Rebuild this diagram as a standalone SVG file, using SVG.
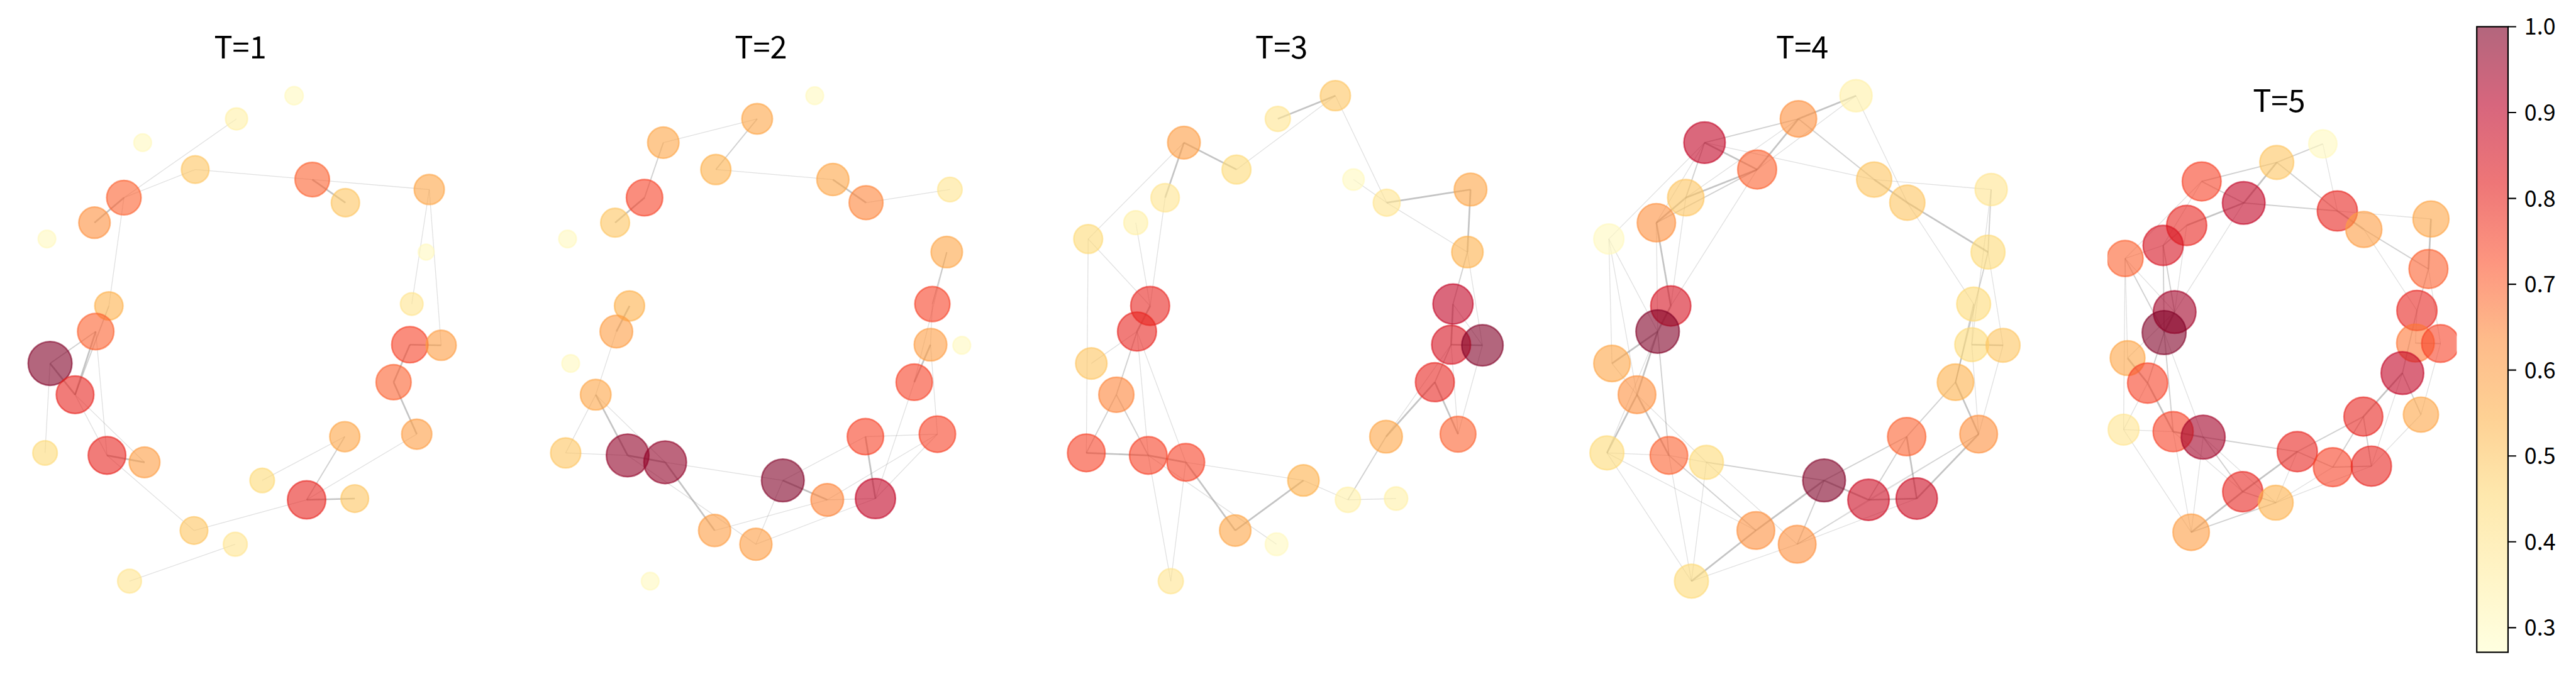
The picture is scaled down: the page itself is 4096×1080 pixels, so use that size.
<svg xmlns="http://www.w3.org/2000/svg" width="4096" height="1080" viewBox="0 0 4096 1080">
<defs>
<style>
.n{fill:currentColor;stroke:currentColor;fill-opacity:.6;stroke-opacity:.6;stroke-width:2.5}
.p5 .n{stroke-width:3.1}
.e1,.e2,.e3{stroke:#7f7f7f;fill:none}
.e1{stroke-opacity:.24;stroke-width:1.3}
.e2{stroke-opacity:.36;stroke-width:1.9}
.e3{stroke-opacity:.46;stroke-width:2.7}
.p5 .e1{stroke-width:1.6}
.p5 .e2{stroke-width:2.4}
.p5 .e3{stroke-width:3.4}
.ttl{font-family:"Noto Sans CJK SC","DejaVu Sans",sans-serif;font-size:49px;fill:#000;text-anchor:middle}
.cbl{font-family:"Noto Sans CJK SC","DejaVu Sans",sans-serif;font-size:36px;fill:#000}
.tick{stroke:#000;stroke-width:2.2}
</style>
<linearGradient id="cm" x1="0" y1="1" x2="0" y2="0">
<stop offset="0" stop-color="#ffffe0"/>
<stop offset="0.125" stop-color="#fff4c6"/>
<stop offset="0.25" stop-color="#fee8ad"/>
<stop offset="0.375" stop-color="#fed194"/>
<stop offset="0.5" stop-color="#febb8a"/>
<stop offset="0.625" stop-color="#fd957f"/>
<stop offset="0.75" stop-color="#ee7677"/>
<stop offset="0.875" stop-color="#d7667d"/>
<stop offset="1" stop-color="#b3667d"/>
</linearGradient>
<clipPath id="c5" clipPathUnits="userSpaceOnUse"><rect x="40" y="-150" width="697.5" height="1400"/></clipPath>
</defs>
<rect width="4096" height="1080" fill="#fff"/>
<g transform="scale(0.995)">

<g id="panel-T1">
<text class="ttl" x="384" y="93">T=1</text>
<g id="edges-T1">
<path class="e1" d="M378 190L198 316"/><path class="e1" d="M312 271L198 316"/><path class="e1" d="M312 271L499 287"/><path class="e1" d="M499 287L686 303"/><path class="e1" d="M198 316L174 489"/><path class="e1" d="M686 303L658 486"/><path class="e1" d="M686 303L705 552"/><path class="e1" d="M666 694L490 799"/><path class="e1" d="M551 698L419 768"/><path class="e1" d="M490 799L310 848"/><path class="e1" d="M376 870L207 929"/><path class="e1" d="M171 728L310 848"/><path class="e1" d="M153 530L171 728"/><path class="e1" d="M80 581L72 724"/><path class="e1" d="M120 631L171 728"/><path class="e1" d="M120 631L231 739"/>
<path class="e2" d="M551 698L490 799"/><path class="e2" d="M153 530L80 581"/><path class="e2" d="M174 489L120 631"/>
<path class="e3" d="M499 287L552 324"/><path class="e3" d="M198 316L151 356"/><path class="e3" d="M655 551L705 552"/><path class="e3" d="M655 551L629 611"/><path class="e3" d="M629 611L666 694"/><path class="e3" d="M490 799L567 797"/><path class="e3" d="M171 728L231 739"/><path class="e3" d="M153 530L120 631"/><path class="e3" d="M80 581L120 631"/>
</g>
<g id="nodes-T1">
<g id="t1-n1"><circle class="n" cx="470" cy="153" r="14.5" color="#fff9be"/></g>
<g id="t1-n2"><circle class="n" cx="378" cy="190" r="17.5" color="#fff0a6"/></g>
<g id="t1-n3"><circle class="n" cx="228" cy="228" r="14" color="#fff9be"/></g>
<g id="t1-n4"><circle class="n" cx="312" cy="271" r="22" color="#fec561"/></g>
<g id="t1-n5"><circle class="n" cx="198" cy="316" r="27.5" color="#fc612f"/></g>
<g id="t1-n6"><circle class="n" cx="151" cy="356" r="25" color="#fd8f3d"/></g>
<g id="t1-n7"><circle class="n" cx="75" cy="382" r="14" color="#fff9be"/></g>
<g id="t1-n8"><circle class="n" cx="499" cy="287" r="27.5" color="#fc612f"/></g>
<g id="t1-n9"><circle class="n" cx="552" cy="324" r="22.5" color="#fec561"/></g>
<g id="t1-n10"><circle class="n" cx="686" cy="303" r="24" color="#fea546"/></g>
<g id="t1-n11"><circle class="n" cx="681" cy="403" r="12.5" color="#fff9be"/></g>
<g id="t1-n12"><circle class="n" cx="658" cy="486" r="18" color="#ffe58f"/></g>
<g id="t1-n13"><circle class="n" cx="174" cy="489" r="22.5" color="#feb04b"/></g>
<g id="t1-n14"><circle class="n" cx="153" cy="530" r="29" color="#fc612f"/></g>
<g id="t1-n15"><circle class="n" cx="80" cy="581" r="35" color="#800026"/></g>
<g id="t1-n16"><circle class="n" cx="120" cy="631" r="30" color="#e8241f"/></g>
<g id="t1-n17"><circle class="n" cx="72" cy="724" r="19.5" color="#feda78"/></g>
<g id="t1-n18"><circle class="n" cx="171" cy="728" r="30" color="#e8241f"/></g>
<g id="t1-n19"><circle class="n" cx="231" cy="739" r="24.5" color="#fd9c42"/></g>
<g id="t1-n20"><circle class="n" cx="655" cy="551" r="29" color="#f64127"/></g>
<g id="t1-n21"><circle class="n" cx="705" cy="552" r="24" color="#fd9c42"/></g>
<g id="t1-n22"><circle class="n" cx="629" cy="611" r="28" color="#fc612f"/></g>
<g id="t1-n23"><circle class="n" cx="666" cy="694" r="24" color="#fd9c42"/></g>
<g id="t1-n24"><circle class="n" cx="551" cy="698" r="24" color="#fea546"/></g>
<g id="t1-n25"><circle class="n" cx="419" cy="768" r="19.5" color="#feda78"/></g>
<g id="t1-n26"><circle class="n" cx="490" cy="799" r="30.5" color="#e8241f"/></g>
<g id="t1-n27"><circle class="n" cx="567" cy="797" r="22" color="#fec561"/></g>
<g id="t1-n28"><circle class="n" cx="310" cy="848" r="22" color="#fec561"/></g>
<g id="t1-n29"><circle class="n" cx="376" cy="870" r="19" color="#ffe58f"/></g>
<g id="t1-n30"><circle class="n" cx="207" cy="929" r="19" color="#ffe58f"/></g>
</g>
</g>

<g id="panel-T2" transform="translate(832,0)">
<text class="ttl" x="384" y="93">T=2</text>
<g id="edges-T2">
<path class="e1" d="M378 190L228 228"/><path class="e1" d="M312 271L499 287"/><path class="e1" d="M552 324L686 303"/><path class="e1" d="M681 403L629 611"/><path class="e1" d="M658 486L655 551"/><path class="e1" d="M655 551L666 694"/><path class="e1" d="M629 611L567 797"/><path class="e1" d="M666 694L551 698"/><path class="e1" d="M666 694L490 799"/><path class="e1" d="M551 698L419 768"/><path class="e1" d="M490 799L567 797"/><path class="e1" d="M567 797L376 870"/><path class="e1" d="M490 799L310 848"/><path class="e1" d="M231 739L419 768"/><path class="e1" d="M171 728L376 870"/><path class="e1" d="M72 724L171 728"/><path class="e1" d="M153 530L120 631"/><path class="e1" d="M120 631L72 724"/><path class="e1" d="M120 631L231 739"/><path class="e1" d="M666 694L567 797"/><path class="e1" d="M419 768L376 870"/>
<path class="e2" d="M228 228L198 316"/><path class="e2" d="M681 403L658 486"/><path class="e2" d="M378 190L312 271"/>
<path class="e3" d="M198 316L151 356"/><path class="e3" d="M499 287L552 324"/><path class="e3" d="M655 551L629 611"/><path class="e3" d="M551 698L567 797"/><path class="e3" d="M419 768L490 799"/><path class="e3" d="M231 739L310 848"/><path class="e3" d="M171 728L231 739"/><path class="e3" d="M120 631L171 728"/><path class="e3" d="M174 489L153 530"/>
</g>
<g id="nodes-T2">
<g id="t2-n1"><circle class="n" cx="470" cy="153" r="14" color="#fff9be"/></g>
<g id="t2-n2"><circle class="n" cx="378" cy="190" r="24.4" color="#fea546"/></g>
<g id="t2-n3"><circle class="n" cx="228" cy="228" r="25" color="#fea546"/></g>
<g id="t2-n4"><circle class="n" cx="312" cy="271" r="24" color="#feb04b"/></g>
<g id="t2-n5"><circle class="n" cx="198" cy="316" r="29" color="#f64127"/></g>
<g id="t2-n6"><circle class="n" cx="151" cy="356" r="23" color="#fec561"/></g>
<g id="t2-n7"><circle class="n" cx="75" cy="382" r="14" color="#fff9be"/></g>
<g id="t2-n8"><circle class="n" cx="499" cy="287" r="25.6" color="#fea546"/></g>
<g id="t2-n9"><circle class="n" cx="552" cy="324" r="27" color="#fd8339"/></g>
<g id="t2-n10"><circle class="n" cx="686" cy="303" r="19.5" color="#ffe58f"/></g>
<g id="t2-n11"><circle class="n" cx="681" cy="403" r="25" color="#fea546"/></g>
<g id="t2-n12"><circle class="n" cx="658" cy="486" r="28" color="#f64127"/></g>
<g id="t2-n13"><circle class="n" cx="174" cy="489" r="24" color="#feb04b"/></g>
<g id="t2-n14"><circle class="n" cx="153" cy="530" r="26" color="#fd9c42"/></g>
<g id="t2-n15"><circle class="n" cx="80" cy="581" r="14" color="#fff9be"/></g>
<g id="t2-n16"><circle class="n" cx="120" cy="631" r="24.4" color="#fea546"/></g>
<g id="t2-n17"><circle class="n" cx="72" cy="724" r="24" color="#fec561"/></g>
<g id="t2-n18"><circle class="n" cx="171" cy="728" r="34" color="#910026"/></g>
<g id="t2-n19"><circle class="n" cx="231" cy="739" r="34" color="#910026"/></g>
<g id="t2-n20"><circle class="n" cx="655" cy="551" r="26" color="#fd9c42"/></g>
<g id="t2-n21"><circle class="n" cx="705" cy="552" r="14" color="#fff9be"/></g>
<g id="t2-n22"><circle class="n" cx="629" cy="611" r="29" color="#f64127"/></g>
<g id="t2-n23"><circle class="n" cx="666" cy="694" r="29" color="#f64127"/></g>
<g id="t2-n24"><circle class="n" cx="551" cy="698" r="29" color="#f64127"/></g>
<g id="t2-n25"><circle class="n" cx="419" cy="768" r="34" color="#800026"/></g>
<g id="t2-n26"><circle class="n" cx="490" cy="799" r="26" color="#fd8339"/></g>
<g id="t2-n27"><circle class="n" cx="567" cy="797" r="32" color="#c10325"/></g>
<g id="t2-n28"><circle class="n" cx="310" cy="848" r="25.6" color="#fd9c42"/></g>
<g id="t2-n29"><circle class="n" cx="376" cy="870" r="25.6" color="#fd9c42"/></g>
<g id="t2-n30"><circle class="n" cx="207" cy="929" r="14" color="#fff9be"/></g>
</g>
</g>

<g id="panel-T3" transform="translate(1664,0)">
<text class="ttl" x="384" y="93">T=3</text>
<g id="edges-T3">
<path class="e1" d="M470 153L312 271"/><path class="e1" d="M470 153L552 324"/><path class="e1" d="M228 228L75 382"/><path class="e1" d="M198 316L174 489"/><path class="e1" d="M151 356L174 489"/><path class="e1" d="M75 382L174 489"/><path class="e1" d="M75 382L72 724"/><path class="e1" d="M499 287L552 324"/><path class="e1" d="M552 324L681 403"/><path class="e1" d="M681 403L705 552"/><path class="e1" d="M658 486L705 552"/><path class="e1" d="M655 551L666 694"/><path class="e1" d="M705 552L666 694"/><path class="e1" d="M655 551L551 698"/><path class="e1" d="M419 768L490 799"/><path class="e1" d="M490 799L567 797"/><path class="e1" d="M231 739L419 768"/><path class="e1" d="M171 728L376 870"/><path class="e1" d="M153 530L80 581"/><path class="e1" d="M153 530L171 728"/><path class="e1" d="M153 530L231 739"/><path class="e1" d="M171 728L207 929"/><path class="e1" d="M231 739L207 929"/>
<path class="e2" d="M681 403L658 486"/><path class="e2" d="M551 698L490 799"/><path class="e2" d="M153 530L120 631"/><path class="e2" d="M120 631L171 728"/><path class="e2" d="M120 631L72 724"/><path class="e2" d="M655 551L629 611"/>
<path class="e3" d="M470 153L378 190"/><path class="e3" d="M228 228L312 271"/><path class="e3" d="M228 228L198 316"/><path class="e3" d="M552 324L686 303"/><path class="e3" d="M686 303L681 403"/><path class="e3" d="M655 551L705 552"/><path class="e3" d="M658 486L655 551"/><path class="e3" d="M629 611L666 694"/><path class="e3" d="M629 611L551 698"/><path class="e3" d="M419 768L310 848"/><path class="e3" d="M231 739L310 848"/><path class="e3" d="M171 728L231 739"/><path class="e3" d="M72 724L171 728"/><path class="e3" d="M174 489L153 530"/>
</g>
<g id="nodes-T3">
<g id="t3-n1"><circle class="n" cx="470" cy="153" r="24" color="#fec561"/></g>
<g id="t3-n2"><circle class="n" cx="378" cy="190" r="20" color="#ffe58f"/></g>
<g id="t3-n3"><circle class="n" cx="228" cy="228" r="26" color="#fd9c42"/></g>
<g id="t3-n4"><circle class="n" cx="312" cy="271" r="23" color="#feda78"/></g>
<g id="t3-n5"><circle class="n" cx="198" cy="316" r="22.6" color="#ffe58f"/></g>
<g id="t3-n6"><circle class="n" cx="151" cy="356" r="19" color="#fff0a6"/></g>
<g id="t3-n7"><circle class="n" cx="75" cy="382" r="23" color="#feda78"/></g>
<g id="t3-n8"><circle class="n" cx="499" cy="287" r="17" color="#fff9be"/></g>
<g id="t3-n9"><circle class="n" cx="552" cy="324" r="21.4" color="#ffe58f"/></g>
<g id="t3-n10"><circle class="n" cx="686" cy="303" r="26" color="#fea546"/></g>
<g id="t3-n11"><circle class="n" cx="681" cy="403" r="25" color="#feb04b"/></g>
<g id="t3-n12"><circle class="n" cx="658" cy="486" r="32" color="#c10325"/></g>
<g id="t3-n13"><circle class="n" cx="174" cy="489" r="31" color="#e8241f"/></g>
<g id="t3-n14"><circle class="n" cx="153" cy="530" r="31" color="#e8241f"/></g>
<g id="t3-n15"><circle class="n" cx="80" cy="581" r="25" color="#fec561"/></g>
<g id="t3-n16"><circle class="n" cx="120" cy="631" r="28" color="#fd8339"/></g>
<g id="t3-n17"><circle class="n" cx="72" cy="724" r="30" color="#f64127"/></g>
<g id="t3-n18"><circle class="n" cx="171" cy="728" r="30" color="#f64127"/></g>
<g id="t3-n19"><circle class="n" cx="231" cy="739" r="30" color="#f64127"/></g>
<g id="t3-n20"><circle class="n" cx="655" cy="551" r="31" color="#d61120"/></g>
<g id="t3-n21"><circle class="n" cx="705" cy="552" r="33" color="#800026"/></g>
<g id="t3-n22"><circle class="n" cx="629" cy="611" r="31" color="#e8241f"/></g>
<g id="t3-n23"><circle class="n" cx="666" cy="694" r="28.5" color="#fc612f"/></g>
<g id="t3-n24"><circle class="n" cx="551" cy="698" r="26" color="#fea546"/></g>
<g id="t3-n25"><circle class="n" cx="419" cy="768" r="25" color="#feb04b"/></g>
<g id="t3-n26"><circle class="n" cx="490" cy="799" r="20" color="#fff0a6"/></g>
<g id="t3-n27"><circle class="n" cx="567" cy="797" r="18.5" color="#fff0a6"/></g>
<g id="t3-n28"><circle class="n" cx="310" cy="848" r="25" color="#fea546"/></g>
<g id="t3-n29"><circle class="n" cx="376" cy="870" r="18" color="#fff9be"/></g>
<g id="t3-n30"><circle class="n" cx="207" cy="929" r="20" color="#ffe58f"/></g>
</g>
</g>

<g id="panel-T4" transform="translate(2496,0)">
<text class="ttl" x="384" y="93">T=4</text>
<g id="edges-T4">
<path class="e1" d="M470 153L312 271"/><path class="e1" d="M470 153L552 324"/><path class="e1" d="M228 228L151 356"/><path class="e1" d="M228 228L75 382"/><path class="e1" d="M228 228L499 287"/><path class="e1" d="M312 271L174 489"/><path class="e1" d="M198 316L174 489"/><path class="e1" d="M151 356L153 530"/><path class="e1" d="M75 382L153 530"/><path class="e1" d="M75 382L80 581"/><path class="e1" d="M75 382L120 631"/><path class="e1" d="M499 287L686 303"/><path class="e1" d="M552 324L658 486"/><path class="e1" d="M686 303L655 551"/><path class="e1" d="M681 403L705 552"/><path class="e1" d="M658 486L655 551"/><path class="e1" d="M153 530L72 724"/><path class="e1" d="M80 581L120 631"/><path class="e1" d="M120 631L231 739"/><path class="e1" d="M72 724L171 728"/><path class="e1" d="M72 724L310 848"/><path class="e1" d="M72 724L207 929"/><path class="e1" d="M171 728L231 739"/><path class="e1" d="M171 728L207 929"/><path class="e1" d="M231 739L376 870"/><path class="e1" d="M231 739L207 929"/><path class="e1" d="M655 551L666 694"/><path class="e1" d="M705 552L666 694"/><path class="e1" d="M666 694L376 870"/><path class="e1" d="M666 694L490 799"/><path class="e1" d="M490 799L376 870"/><path class="e1" d="M567 797L376 870"/><path class="e1" d="M376 870L207 929"/><path class="e1" d="M378 190L198 316"/>
<path class="e2" d="M378 190L228 228"/><path class="e2" d="M378 190L499 287"/><path class="e2" d="M228 228L198 316"/><path class="e2" d="M312 271L151 356"/><path class="e2" d="M153 530L171 728"/><path class="e2" d="M171 728L310 848"/><path class="e2" d="M629 611L551 698"/><path class="e2" d="M551 698L419 768"/><path class="e2" d="M551 698L490 799"/><path class="e2" d="M419 768L376 870"/><path class="e2" d="M658 486L629 611"/><path class="e2" d="M686 303L681 403"/><path class="e2" d="M681 403L629 611"/><path class="e2" d="M231 739L419 768"/>
<path class="e3" d="M470 153L378 190"/><path class="e3" d="M378 190L312 271"/><path class="e3" d="M228 228L312 271"/><path class="e3" d="M312 271L198 316"/><path class="e3" d="M198 316L151 356"/><path class="e3" d="M151 356L174 489"/><path class="e3" d="M499 287L552 324"/><path class="e3" d="M552 324L681 403"/><path class="e3" d="M174 489L153 530"/><path class="e3" d="M153 530L80 581"/><path class="e3" d="M153 530L120 631"/><path class="e3" d="M120 631L171 728"/><path class="e3" d="M120 631L72 724"/><path class="e3" d="M655 551L705 552"/><path class="e3" d="M629 611L666 694"/><path class="e3" d="M666 694L567 797"/><path class="e3" d="M551 698L567 797"/><path class="e3" d="M419 768L490 799"/><path class="e3" d="M490 799L567 797"/><path class="e3" d="M419 768L310 848"/><path class="e3" d="M310 848L207 929"/>
</g>
<g id="nodes-T4">
<g id="t4-n1"><circle class="n" cx="470" cy="153" r="25.6" color="#fff0a6"/></g>
<g id="t4-n2"><circle class="n" cx="378" cy="190" r="29" color="#fd8f3d"/></g>
<g id="t4-n3"><circle class="n" cx="228" cy="228" r="33" color="#c10325"/></g>
<g id="t4-n4"><circle class="n" cx="312" cy="271" r="31" color="#fc612f"/></g>
<g id="t4-n5"><circle class="n" cx="198" cy="316" r="29" color="#fec561"/></g>
<g id="t4-n6"><circle class="n" cx="151" cy="356" r="30.5" color="#fd8f3d"/></g>
<g id="t4-n7"><circle class="n" cx="75" cy="382" r="24" color="#fff9be"/></g>
<g id="t4-n8"><circle class="n" cx="499" cy="287" r="28" color="#fec561"/></g>
<g id="t4-n9"><circle class="n" cx="552" cy="324" r="28" color="#fec561"/></g>
<g id="t4-n10"><circle class="n" cx="686" cy="303" r="25.6" color="#ffe58f"/></g>
<g id="t4-n11"><circle class="n" cx="681" cy="403" r="27" color="#feda78"/></g>
<g id="t4-n12"><circle class="n" cx="658" cy="486" r="27" color="#feda78"/></g>
<g id="t4-n13"><circle class="n" cx="174" cy="489" r="32" color="#d61120"/></g>
<g id="t4-n14"><circle class="n" cx="153" cy="530" r="34.6" color="#800026"/></g>
<g id="t4-n15"><circle class="n" cx="80" cy="581" r="29" color="#fea546"/></g>
<g id="t4-n16"><circle class="n" cx="120" cy="631" r="30" color="#fd8f3d"/></g>
<g id="t4-n17"><circle class="n" cx="72" cy="724" r="27" color="#feda78"/></g>
<g id="t4-n18"><circle class="n" cx="171" cy="728" r="30" color="#fc612f"/></g>
<g id="t4-n19"><circle class="n" cx="231" cy="739" r="27" color="#feda78"/></g>
<g id="t4-n20"><circle class="n" cx="655" cy="551" r="27" color="#feda78"/></g>
<g id="t4-n21"><circle class="n" cx="705" cy="552" r="27" color="#fec561"/></g>
<g id="t4-n22"><circle class="n" cx="629" cy="611" r="29" color="#feb04b"/></g>
<g id="t4-n23"><circle class="n" cx="666" cy="694" r="30" color="#fd8f3d"/></g>
<g id="t4-n24"><circle class="n" cx="551" cy="698" r="30.5" color="#fc612f"/></g>
<g id="t4-n25"><circle class="n" cx="419" cy="768" r="34" color="#800026"/></g>
<g id="t4-n26"><circle class="n" cx="490" cy="799" r="33" color="#cb0a22"/></g>
<g id="t4-n27"><circle class="n" cx="567" cy="797" r="33" color="#cb0a22"/></g>
<g id="t4-n28"><circle class="n" cx="310" cy="848" r="30" color="#fd8f3d"/></g>
<g id="t4-n29"><circle class="n" cx="376" cy="870" r="30" color="#fd8f3d"/></g>
<g id="t4-n30"><circle class="n" cx="207" cy="929" r="27" color="#feda78"/></g>
</g>
</g>

<g id="panel-T5">
<text class="ttl" x="3642" y="179">T=5</text>
<g class="p5" transform="translate(3336,107.6) scale(0.8)" clip-path="url(#c5)">
<g id="edges-T5">
<path class="e1" d="M470 153L499 287"/><path class="e1" d="M228 228L151 356"/><path class="e1" d="M228 228L75 382"/><path class="e1" d="M312 271L174 489"/><path class="e1" d="M198 316L174 489"/><path class="e1" d="M151 356L75 382"/><path class="e1" d="M75 382L174 489"/><path class="e1" d="M75 382L80 581"/><path class="e1" d="M75 382L72 724"/><path class="e1" d="M499 287L686 303"/><path class="e1" d="M552 324L658 486"/><path class="e1" d="M681 403L705 552"/><path class="e1" d="M658 486L655 551"/><path class="e1" d="M174 489L80 581"/><path class="e1" d="M153 530L231 739"/><path class="e1" d="M120 631L72 724"/><path class="e1" d="M72 724L171 728"/><path class="e1" d="M72 724L207 929"/><path class="e1" d="M171 728L310 848"/><path class="e1" d="M171 728L207 929"/><path class="e1" d="M231 739L376 870"/><path class="e1" d="M231 739L207 929"/><path class="e1" d="M705 552L666 694"/><path class="e1" d="M629 611L567 797"/><path class="e1" d="M666 694L567 797"/><path class="e1" d="M419 768L376 870"/><path class="e1" d="M490 799L376 870"/><path class="e1" d="M567 797L376 870"/>
<path class="e2" d="M470 153L378 190"/><path class="e2" d="M378 190L228 228"/><path class="e2" d="M378 190L499 287"/><path class="e2" d="M228 228L312 271"/><path class="e2" d="M312 271L499 287"/><path class="e2" d="M198 316L151 356"/><path class="e2" d="M151 356L174 489"/><path class="e2" d="M151 356L153 530"/><path class="e2" d="M75 382L153 530"/><path class="e2" d="M552 324L681 403"/><path class="e2" d="M681 403L658 486"/><path class="e2" d="M658 486L629 611"/><path class="e2" d="M153 530L120 631"/><path class="e2" d="M153 530L171 728"/><path class="e2" d="M231 739L310 848"/><path class="e2" d="M231 739L419 768"/><path class="e2" d="M551 698L419 768"/><path class="e2" d="M551 698L490 799"/><path class="e2" d="M551 698L567 797"/><path class="e2" d="M419 768L490 799"/><path class="e2" d="M490 799L567 797"/><path class="e2" d="M629 611L666 694"/><path class="e2" d="M655 551L705 552"/><path class="e2" d="M310 848L376 870"/><path class="e2" d="M376 870L207 929"/>
<path class="e3" d="M312 271L198 316"/><path class="e3" d="M499 287L552 324"/><path class="e3" d="M686 303L681 403"/><path class="e3" d="M174 489L153 530"/><path class="e3" d="M80 581L120 631"/><path class="e3" d="M120 631L171 728"/><path class="e3" d="M171 728L231 739"/><path class="e3" d="M629 611L551 698"/><path class="e3" d="M419 768L310 848"/><path class="e3" d="M310 848L207 929"/><path class="e3" d="M378 190L312 271"/>
</g>
<g id="nodes-T5">
<g id="t5-n1"><circle class="n" cx="470" cy="153" r="28.1" color="#fff9be"/></g>
<g id="t5-n2"><circle class="n" cx="378" cy="190" r="33.75" color="#fec561"/></g>
<g id="t5-n3"><circle class="n" cx="228" cy="228" r="38.75" color="#f64127"/></g>
<g id="t5-n4"><circle class="n" cx="312" cy="271" r="42.5" color="#c10325"/></g>
<g id="t5-n5"><circle class="n" cx="198" cy="316" r="40" color="#e8241f"/></g>
<g id="t5-n6"><circle class="n" cx="151" cy="356" r="40" color="#d61120"/></g>
<g id="t5-n7"><circle class="n" cx="75" cy="382" r="35.9" color="#fc612f"/></g>
<g id="t5-n8"><circle class="n" cx="499" cy="287" r="40" color="#e8241f"/></g>
<g id="t5-n9"><circle class="n" cx="552" cy="324" r="35.9" color="#fd9c42"/></g>
<g id="t5-n10"><circle class="n" cx="686" cy="303" r="35.9" color="#fea546"/></g>
<g id="t5-n11"><circle class="n" cx="681" cy="403" r="38.75" color="#fc612f"/></g>
<g id="t5-n12"><circle class="n" cx="658" cy="486" r="40" color="#e8241f"/></g>
<g id="t5-n13"><circle class="n" cx="174" cy="489" r="42.5" color="#a20026"/></g>
<g id="t5-n14"><circle class="n" cx="153" cy="530" r="43.75" color="#800026"/></g>
<g id="t5-n15"><circle class="n" cx="80" cy="581" r="34.6" color="#fea546"/></g>
<g id="t5-n16"><circle class="n" cx="120" cy="631" r="40" color="#f64127"/></g>
<g id="t5-n17"><circle class="n" cx="72" cy="724" r="30.75" color="#ffe58f"/></g>
<g id="t5-n18"><circle class="n" cx="171" cy="728" r="40" color="#f64127"/></g>
<g id="t5-n19"><circle class="n" cx="231" cy="739" r="43.75" color="#a20026"/></g>
<g id="t5-n20"><circle class="n" cx="655" cy="551" r="37.5" color="#fd7736"/></g>
<g id="t5-n21"><circle class="n" cx="705" cy="552" r="37.5" color="#f64127"/></g>
<g id="t5-n22"><circle class="n" cx="629" cy="611" r="42.5" color="#c10325"/></g>
<g id="t5-n23"><circle class="n" cx="666" cy="694" r="35" color="#fea546"/></g>
<g id="t5-n24"><circle class="n" cx="551" cy="698" r="38.75" color="#e8241f"/></g>
<g id="t5-n25"><circle class="n" cx="419" cy="768" r="40" color="#e8241f"/></g>
<g id="t5-n26"><circle class="n" cx="490" cy="799" r="38.75" color="#f64127"/></g>
<g id="t5-n27"><circle class="n" cx="567" cy="797" r="40" color="#e8241f"/></g>
<g id="t5-n28"><circle class="n" cx="310" cy="848" r="40" color="#e8241f"/></g>
<g id="t5-n29"><circle class="n" cx="376" cy="870" r="34.6" color="#feb04b"/></g>
<g id="t5-n30"><circle class="n" cx="207" cy="929" r="36.25" color="#fd9c42"/></g>
</g>
</g>
</g>

<g id="colorbar">
<rect x="3958" y="42.7" width="50" height="1000" fill="url(#cm)" stroke="#000" stroke-width="2.2"/>
<path class="tick" d="M4008 42.7H4021M4008 179.9H4021M4008 317.2H4021M4008 454.4H4021M4008 591.6H4021M4008 728.9H4021M4008 866.1H4021M4008 1003.3H4021"/>
<text class="cbl" x="4034" y="55.7">1.0</text>
<text class="cbl" x="4034" y="192.9">0.9</text>
<text class="cbl" x="4034" y="330.2">0.8</text>
<text class="cbl" x="4034" y="467.4">0.7</text>
<text class="cbl" x="4034" y="604.6">0.6</text>
<text class="cbl" x="4034" y="741.9">0.5</text>
<text class="cbl" x="4034" y="879.1">0.4</text>
<text class="cbl" x="4034" y="1016.3">0.3</text>
</g>
</g>
</svg>
